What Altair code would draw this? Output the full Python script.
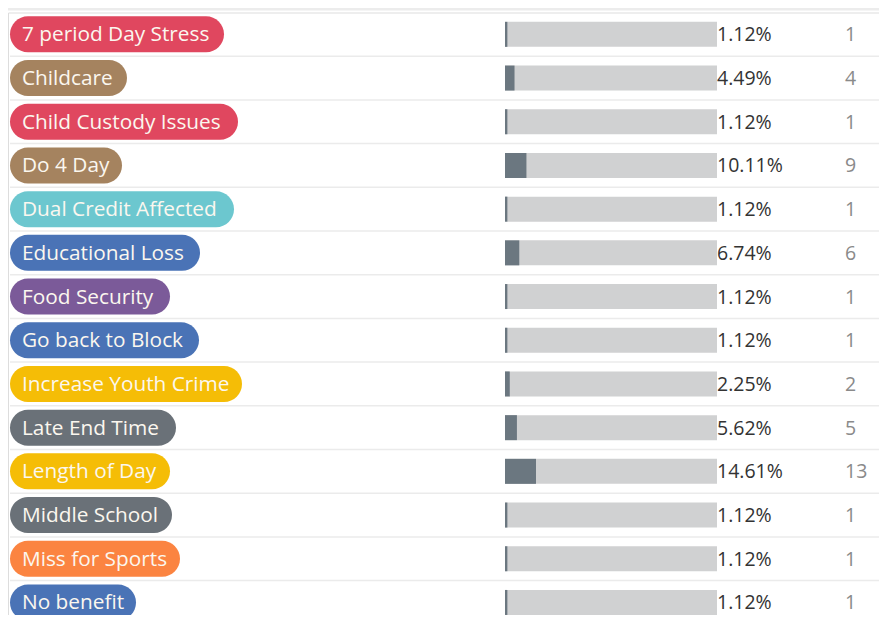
import altair as alt
import pandas as pd

labels = [
    "7 period Day Stress", "Childcare", "Child Custody Issues", "Do 4 Day",
    "Dual Credit Affected", "Educational Loss", "Food Security", "Go back to Block",
    "Increase Youth Crime", "Late End Time", "Length of Day", "Middle School",
    "Miss for Sports", "No benefit",
]
percents = [1.12, 4.49, 1.12, 10.11, 1.12, 6.74, 1.12, 1.12, 2.25, 5.62, 14.61, 1.12, 1.12, 1.12]
counts = [1, 4, 1, 9, 1, 6, 1, 1, 2, 5, 13, 1, 1, 1]
pill_colors = [
    "#e0475f", "#a5835f", "#e0475f", "#a5835f", "#6cc7cf", "#4a73b6", "#7b5a99",
    "#4a73b6", "#f5bd06", "#6a7178", "#f5bd06", "#6a7178", "#fb8441", "#4a73b6",
]
# pill (label badge) widths in px
pill_widths = [214, 117, 228, 112, 224, 190, 160, 189, 232, 166, 160, 162, 170, 126]

PILL_X0 = 2
df = pd.DataFrame({
    "label": labels,
    "pct": percents,
    "count": counts,
    "color": pill_colors,
    "pill_lo": [PILL_X0] * len(labels),
    "pill_hi": [PILL_X0 + w for w in pill_widths],
    "zero": [0] * len(labels),
    "full": [100] * len(labels),
    "pct_txt": [f"{p:.2f}%" for p in percents],
})

FONT = "Open Sans"
ROW = 43.7
y_scale = alt.Scale(paddingInner=0, paddingOuter=0, range=[0, ROW * len(labels)])
y_enc = alt.Y("label:N", sort=labels, axis=None, scale=y_scale)
bar_x = alt.Scale(domain=[0, 100], range=[497, 709])

base = alt.Chart(df)

separators = base.mark_rule(color="#ebebeb", strokeWidth=1.5).encode(
    y=alt.Y("label:N", sort=labels, axis=None, bandPosition=1, scale=y_scale),
    x=alt.value(2), x2=alt.value(871),
)

top_band = alt.Chart(pd.DataFrame({"a": [0]})).mark_rule(
    color="#ececec", strokeWidth=3
).encode(y=alt.value(-3.5), x=alt.value(-3), x2=alt.value(871))

pills = base.mark_bar(cornerRadius=18, size=36).encode(
    y=y_enc,
    x=alt.X("pill_lo:Q", scale=None, axis=None),
    x2="pill_hi:Q",
    color=alt.Color("color:N", scale=None),
)

pill_text = base.mark_text(
    align="left", baseline="middle", font=FONT, fontSize=20.8, color="#fbf7ef", dy=1
).encode(y=y_enc, x=alt.value(14), text="label:N")

track = base.mark_bar(size=25, color="#d0d1d2").encode(
    y=y_enc,
    x=alt.X("zero:Q", scale=bar_x, axis=None),
    x2="full:Q",
)

fill = base.mark_bar(size=25, color="#6b7780").encode(
    y=y_enc,
    x=alt.X("zero:Q", scale=bar_x, axis=None),
    x2="pct:Q",
)

pct_text = base.mark_text(
    align="left", baseline="middle", font=FONT, fontSize=19.5, color="#333333", dy=1
).encode(y=y_enc, x=alt.value(709), text="pct_txt:N")

count_text = base.mark_text(
    align="left", baseline="middle", font=FONT, fontSize=19.5, color="#8a8a8a", dy=1
).encode(y=y_enc, x=alt.value(837), text="count:Q")

chart = alt.layer(
    top_band, separators, pills, pill_text, track, fill, pct_text, count_text
).resolve_scale(x="independent").properties(
    width=871, height=602.5,
    autosize=alt.AutoSizeParams(type="none"),
    padding={"left": 0, "top": 4.5, "right": 0, "bottom": 0},
).configure_view(stroke=None).configure(background="white")

chart.save("out.html", embed_options={"renderer": "svg", "actions": False})
